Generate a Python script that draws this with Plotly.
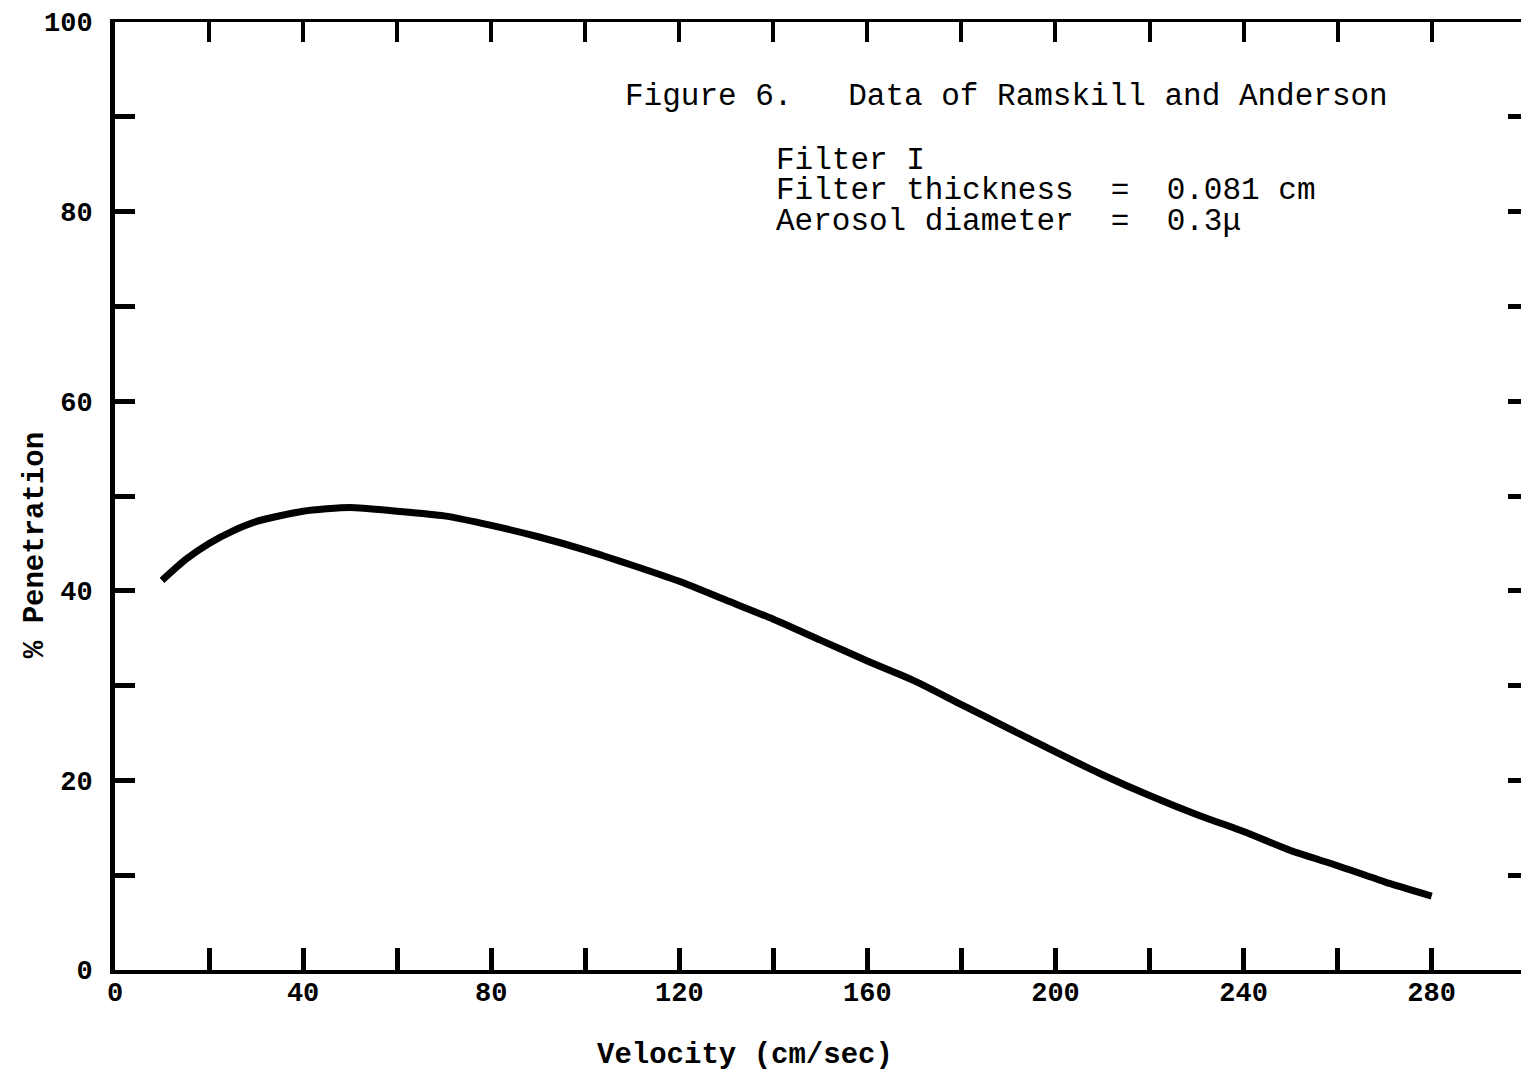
import plotly.graph_objects as go

# Penetration curve (Filter I, 0.081 cm thick, 0.3 micron aerosol)
velocity = [10, 15, 20, 25, 30, 40, 50, 60, 70, 80, 90, 100, 110, 120, 130,
            140, 150, 160, 170, 180, 190, 200, 210, 220, 230, 240, 250, 260, 270, 280]
penetration = [41.1, 43.3, 45.0, 46.3, 47.3, 48.4, 48.8, 48.4, 47.9, 46.9, 45.7, 44.3,
               42.7, 41.0, 39.0, 37.0, 34.8, 32.6, 30.5, 28.0, 25.5, 23.0, 20.6, 18.4,
               16.4, 14.6, 12.6, 11.0, 9.3, 7.8]

x_tick_vals = [0, 20, 40, 60, 80, 100, 120, 140, 160, 180, 200, 220, 240, 260, 280]
x_tick_text = ["0", "", "40", "", "80", "", "120", "", "160", "", "200", "", "240", "", "280"]
y_tick_vals = [0, 10, 20, 30, 40, 50, 60, 70, 80, 90, 100]
y_tick_text = ["0", "", "20", "", "40", "", "60", "", "80", "", "100"]
top_tick_vals = [20, 40, 60, 80, 100, 120, 140, 160, 180, 200, 220, 240, 260, 280]
right_tick_vals = [10, 20, 30, 40, 50, 60, 70, 80, 90]

caption_lines = [
    ("Figure 6.   Data of Ramskill and Anderson", 108.0, 92.1),
    ("Filter I", 140.2, 85.4),
    ("Filter thickness  =  0.081 cm", 140.2, 82.2),
    ("Aerosol diameter  =  0.3μ", 140.2, 79.0),
]

MONO = "Liberation Mono"
X_RANGE = [0, 299]
Y_RANGE = [0, 100]

fig = go.Figure()
fig.add_trace(go.Scatter(
    x=velocity, y=penetration, mode="lines",
    line=dict(color="black", width=7, shape="spline", smoothing=0.6),
    showlegend=False, hoverinfo="skip",
))
# invisible trace that carries the top/right frame axes
fig.add_trace(go.Scatter(x=[None], y=[None], xaxis="x2", yaxis="y2",
                         showlegend=False, hoverinfo="skip"))

tick_font = dict(family=MONO, size=27, color="black", weight="bold")

fig.update_layout(
    width=1521, height=1073,
    margin=dict(l=115, r=0, t=22, b=103),
    paper_bgcolor="white", plot_bgcolor="white",
    xaxis=dict(
        range=X_RANGE, tickmode="array", tickvals=x_tick_vals, ticktext=x_tick_text,
        ticks="inside", ticklen=22, tickwidth=5, tickcolor="black",
        showline=True, linewidth=4, linecolor="black",
        showgrid=False, zeroline=False, tickfont=tick_font, ticklabelstandoff=-5,
    ),
    yaxis=dict(
        range=Y_RANGE, tickmode="array", tickvals=y_tick_vals, ticktext=y_tick_text,
        ticks="inside", ticklen=20, tickwidth=5, tickcolor="black",
        showline=True, linewidth=5, linecolor="black",
        showgrid=False, zeroline=False, tickfont=tick_font, ticklabelstandoff=12,
    ),
    xaxis2=dict(
        range=X_RANGE, overlaying="x", side="top", anchor="y",
        tickmode="array", tickvals=top_tick_vals, showticklabels=False,
        ticks="inside", ticklen=20, tickwidth=4, tickcolor="black",
        showline=True, linewidth=3, linecolor="black",
        showgrid=False, zeroline=False,
    ),
    yaxis2=dict(
        range=Y_RANGE, overlaying="y", side="right", anchor="x",
        tickmode="array", tickvals=right_tick_vals, showticklabels=False,
        ticks="inside", ticklen=13, tickwidth=5, tickcolor="black",
        showline=False, showgrid=False, zeroline=False,
    ),
)

for text, xv, yv in caption_lines:
    fig.add_annotation(
        x=xv, y=yv, xref="x", yref="y", text=text, showarrow=False,
        xanchor="left", yanchor="middle",
        font=dict(family=MONO, size=31, color="black"),
    )

fig.add_annotation(
    x=0.448, y=-0.0897, xref="paper", yref="paper", text="Velocity (cm/sec)",
    showarrow=False, xanchor="center", yanchor="middle",
    font=dict(family=MONO, size=29, color="black", weight="bold"),
)
fig.add_annotation(
    x=-0.057, y=0.448, xref="paper", yref="paper", text="% Penetration", textangle=-90,
    showarrow=False, xanchor="center", yanchor="middle",
    font=dict(family=MONO, size=29, color="black", weight="bold"),
)

fig.write_html("out.html")
